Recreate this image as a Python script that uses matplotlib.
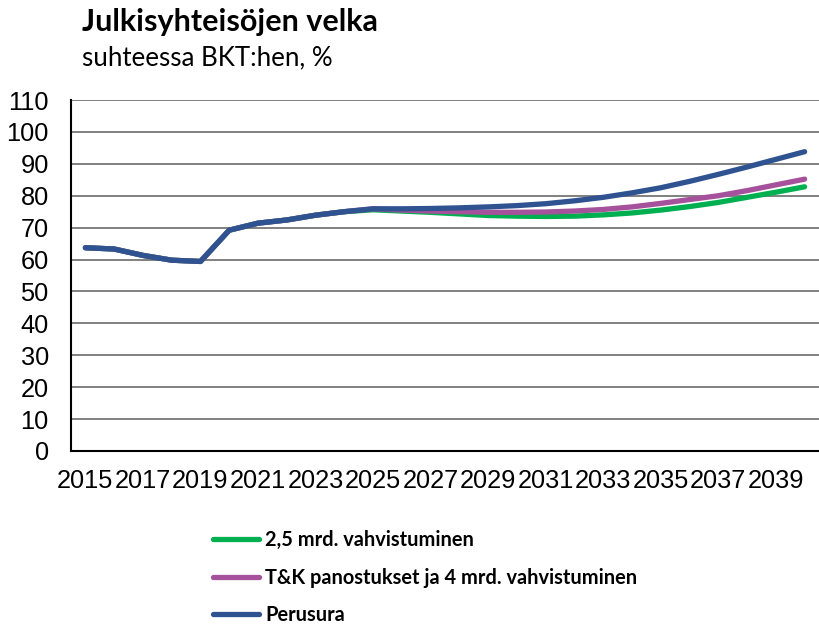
import matplotlib
matplotlib.use("Agg")
import matplotlib.pyplot as plt
import numpy as np

years = list(range(2015, 2041))
tick_labels = [str(y) for y in range(2015, 2041, 2)]

perusura = [63.7, 63.3, 61.3, 59.8, 59.4, 69.2, 71.4, 72.4, 73.9, 75.0, 75.9,
            75.9, 76.0, 76.2, 76.5, 76.9, 77.5, 78.4, 79.5, 80.9, 82.5,
            84.5, 86.7, 89.0, 91.4, 93.8]
tk_4mrd = [63.7, 63.3, 61.3, 59.8, 59.4, 69.2, 71.4, 72.4, 73.9, 75.0, 75.9,
           75.5, 75.2, 75.0, 74.8, 74.8, 74.9, 75.2, 75.7, 76.5, 77.6,
           78.8, 80.0, 81.6, 83.4, 85.2]
mrd_25 = [63.7, 63.3, 61.3, 59.8, 59.4, 69.2, 71.4, 72.4, 73.9, 75.0, 75.6,
          75.2, 74.8, 74.3, 73.8, 73.6, 73.5, 73.6, 74.0, 74.6, 75.5,
          76.6, 77.9, 79.5, 81.1, 82.8]

labels = ["2,5 mrd. vahvistuminen",
          "T&K panostukset ja 4 mrd. vahvistuminen",
          "Perusura"]
colors = ["#00B050", "#A5519B", "#2F5290"]

fig = plt.figure(figsize=(8.19, 6.25), dpi=100)
ax = fig.add_axes([71/819, 1 - 451/625, (819 - 71)/819, (451 - 100)/625])

x = np.arange(len(years))
lw = 3.8
for series, lab, col in zip([mrd_25, tk_4mrd, perusura], labels, colors):
    ax.plot(x, series, color=col, lw=lw, label=lab, solid_capstyle="round",
            solid_joinstyle="round", zorder=3)

ax.set_xlim(-0.5, len(years) - 0.5)
ax.set_ylim(0, 110)
ax.set_yticks(range(0, 111, 10))
ax.set_xticks(x[::2])
ax.set_xticklabels(tick_labels)
ax.yaxis.grid(True, color="#808080", lw=1.4)
ax.set_axisbelow(True)
for s in ["top", "right"]:
    ax.spines[s].set_visible(False)
for s in ["left", "bottom"]:
    ax.spines[s].set_color("black")
    ax.spines[s].set_linewidth(1.5)
    ax.spines[s].set_zorder(4)
ax.tick_params(axis="both", length=0, labelsize=18.3)
ax.tick_params(axis="y", pad=16)
ax.tick_params(axis="x", pad=13)
for t in ax.get_xticklabels() + ax.get_yticklabels():
    t.set_fontfamily("Liberation Sans")

fig.text(82/819, 1 - 22/625, "Julkisyhteisöjen velka", fontsize=22,
         fontweight="bold", family="Lato", va="center", ha="left")
fig.text(82/819, 1 - 58/625, "suhteessa BKT:hen, %", fontsize=18.6,
         family="Lato", va="center", ha="left")

leg = fig.legend(loc="upper left", bbox_to_anchor=(195/819, 1 - 512/625),
                 frameon=False, prop={"family": "Lato", "weight": "bold", "size": 14.4},
                 handlelength=2.3, handletextpad=0.3, labelspacing=0.88)

fig.savefig("out.png", dpi=100)
